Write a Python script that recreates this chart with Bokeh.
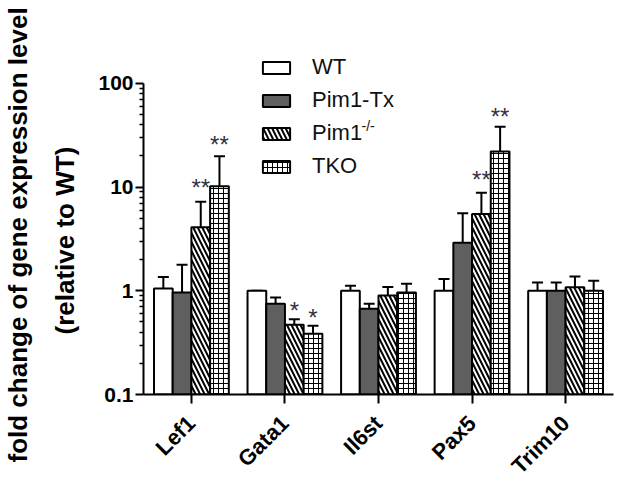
from bokeh.plotting import figure
from bokeh.models import (ColumnDataSource, Range1d, FixedTicker, CustomJSTickFormatter,
                          Whisker, TeeHead, Label, Title)
from bokeh.core.properties import value
from bokeh.embed import file_html
from bokeh.resources import INLINE

genes = ["Lef1", "Gata1", "Il6st", "Pax5", "Trim10"]
series = ["WT", "Pim1-Tx", "Pim1", "TKO"]

wt_mean = [1.05, 1.0, 1.0, 1.0, 1.0]
wt_err = [1.36, 1.0, 1.12, 1.3, 1.2]
tx_mean = [0.96, 0.75, 0.67, 2.9, 1.0]
tx_err = [1.78, 0.86, 0.75, 5.6, 1.2]
ko_mean = [4.1, 0.47, 0.9, 5.5, 1.08]
ko_err = [7.2, 0.53, 1.09, 8.8, 1.37]
tko_mean = [10.2, 0.385, 0.96, 22.0, 1.0]
tko_err = [19.8, 0.46, 1.17, 38.0, 1.25]

# significance marks: gene index, series index, text, y position
star_gene = [0, 0, 1, 1, 3, 3]
star_series = [2, 3, 2, 3, 2, 3]
star_text = ["**", "**", "*", "*", "**", "**"]
star_y = [9.8, 25.9, 0.64, 0.55, 11.9, 48.0]

y_ticks = [0.1, 1, 10, 100]
title_lines = ["fold change of gene expression level", "(relative to WT)"]

FONT = "Liberation Sans"
offsets = [-0.3, -0.1, 0.1, 0.3]
bar_w = 0.2

p = figure(width=616, height=490, y_axis_type="log",
           x_range=Range1d(-0.512, 4.512), y_range=Range1d(0.1, 207),
           output_backend="svg", toolbar_location=None,
           min_border_left=142, min_border_right=3, min_border_top=50, min_border_bottom=95)
p.outline_line_color = None
p.xgrid.visible = False
p.ygrid.visible = False
p.background_fill_color = "white"
p.border_fill_color = "white"

styles = [
    dict(fill_color="white"),
    dict(fill_color="#5f5f5f"),
    dict(fill_color="white", hatch_pattern="left_diagonal_line", hatch_scale=9, hatch_weight=2,
         hatch_color="black"),
    dict(fill_color="white", hatch_pattern="cross", hatch_scale=5, hatch_weight=1, hatch_color="black"),
]
means = [wt_mean, tx_mean, ko_mean, tko_mean]
errs = [wt_err, tx_err, ko_err, tko_err]

for k in range(4):
    xs = [i + offsets[k] for i in range(len(genes))]
    src = ColumnDataSource(dict(x=xs, top=means[k], err=errs[k], bottom=[0.1] * len(genes)))
    p.add_layout(Whisker(source=src, base="x", lower="top", upper="err", dimension="height",
                         line_width=2, line_color="black", lower_head=None,
                         upper_head=TeeHead(size=11, line_width=2, line_color="black")))
    p.vbar(x="x", top="top", bottom="bottom", width=bar_w, source=src,
           line_color="black", line_width=2, legend_label=series[k], **styles[k])

sx = [star_gene[i] + offsets[star_series[i]] for i in range(len(star_text))]
p.text(x=sx, y=star_y, text=star_text, text_align="center", text_baseline="alphabetic",
       y_offset=0, text_font=value(FONT), text_font_size="24px", text_color="#33333f")

# y axis
yax = p.yaxis[0]
yax.bounds = (0.1, 100)
yax.ticker = FixedTicker(ticks=y_ticks,
                         minor_ticks=[m * 10.0 ** e for e in (-1, 0, 1) for m in range(2, 10)])
yax.formatter = CustomJSTickFormatter(code="return String(tick);")
yax.axis_line_width = 2
yax.major_tick_line_width = 2
yax.minor_tick_line_width = 1.5
yax.major_tick_out = 8
yax.major_tick_in = 0
yax.minor_tick_out = 4
yax.minor_tick_in = 0
yax.major_label_standoff = 2
yax.major_label_text_font = FONT
yax.major_label_text_font_style = "bold"
yax.major_label_text_font_size = "21px"
yax.major_label_text_color = "black"

# y axis title as two left-side titles (inner line first)
p.add_layout(Title(text=title_lines[1], align="left", offset=60, standoff=31,
                   text_font=FONT, text_font_style="bold", text_font_size="26px",
                   text_color="black"), "left")
p.add_layout(Title(text=title_lines[0], align="left", offset=-68, standoff=0,
                   text_font=FONT, text_font_style="bold", text_font_size="26px",
                   text_color="black"), "left")

# x axis
xax = p.xaxis[0]
xax.ticker = FixedTicker(ticks=list(range(len(genes))))
xax.major_label_overrides = {i: g for i, g in enumerate(genes)}
xax.major_label_orientation = 0.785398
xax.axis_line_width = 2
xax.major_tick_line_width = 2
xax.major_tick_out = 9
xax.major_tick_in = 0
xax.minor_tick_line_color = None
xax.major_label_standoff = 16
xax.major_label_text_font = FONT
xax.major_label_text_font_style = "bold"
xax.major_label_text_font_size = "22px"
xax.major_label_text_color = "black"

# legend
lg = p.legend[0]
lg.location = (116, 215)
lg.border_line_color = None
lg.background_fill_alpha = 0
lg.padding = 0
lg.margin = 0
lg.glyph_width = 34
lg.glyph_height = 15
lg.label_standoff = 19
lg.spacing = 7
lg.label_text_font = FONT
lg.label_text_font_size = "22px"
lg.label_text_color = "#111111"

p.add_layout(Label(x=218, y=269, x_units="screen", y_units="screen", text="-/-",
                   text_font=FONT, text_font_size="14px", text_color="#111111",
                   text_baseline="middle"))

open("out.html", "w").write(file_html(p, INLINE))
